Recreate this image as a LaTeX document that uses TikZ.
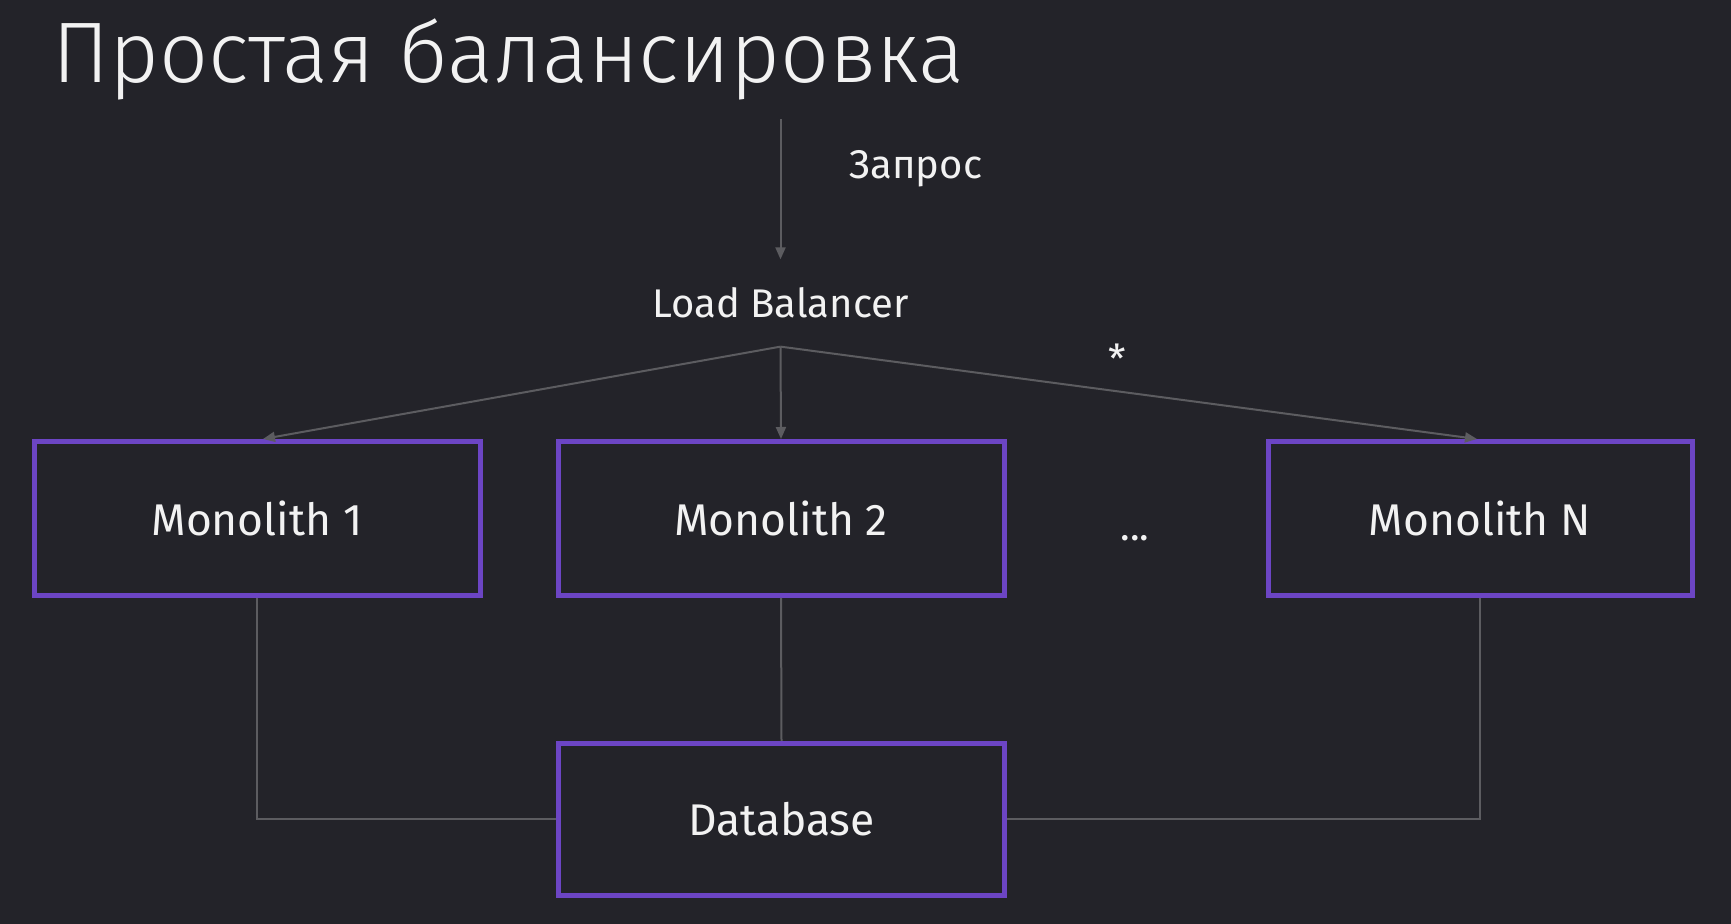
\documentclass[tikz,border=0pt]{standalone}
\usepackage{fontspec}
\setmainfont{Fira Sans}
\newfontfamily\titlefont{Fira Sans Light}
\usetikzlibrary{arrows.meta}
\definecolor{bgc}{HTML}{232329}
\definecolor{boxc}{HTML}{6C45C4}
\definecolor{linec}{HTML}{5C5C60}
\definecolor{txtc}{HTML}{F2F2F2}
\tikzset{
  mbox/.style={draw=boxc, line width=2.5pt, rectangle, minimum width=223pt, minimum height=77pt,
    text=txtc, font=\fontsize{22.2}{26}\selectfont, inner sep=0pt},
  lbl/.style={text=txtc, font=\fontsize{20}{24}\selectfont, inner sep=0pt},
  conn/.style={draw=linec, line width=1pt},
  arr/.style={conn, -{Triangle[length=6pt,width=5pt]}}
}
\begin{document}
\begin{tikzpicture}[x=0.5pt,y=-0.5pt]
\fill[bgc] (0,0) rectangle (1731,924);
\useasboundingbox (0,0) rectangle (1731,924);

\node[text=txtc, font=\titlefont\fontsize{43}{50}\selectfont, inner sep=0pt, anchor=base west] (title) at (52,83) {Простая балансировка};

\coordinate (req) at (780.5,119);
\node[lbl, anchor=base] (zapros) at (916,179) {Запрос};
\node[lbl, inner xsep=0pt, inner ysep=14pt] (lb) at (780.5,303) {Load Balancer};

\node[mbox] (m1) at (257,518.5) {Monolith 1};
\node[mbox] (m2) at (781,518.5) {Monolith 2};
\node[mbox, minimum width=212pt] (mn) at (1480,518.5) {Monolith N};
\node[mbox, minimum height=76pt] (db) at (781.5,819.5) {Database};

\node[lbl, anchor=base] (star) at (1117,374) {*};
\node[lbl, anchor=base] (dots) at (1135,541) {...};

\draw[arr] (req) -- (lb.north);
\draw[arr] (lb.south) -- ([xshift=3pt]m1.north);
\draw[arr] (lb.south) -- (m2.north);
\draw[arr] (lb.south) -- ([xshift=-1.5pt]mn.north);

\draw[conn] (m1.south) |- (db.west);
\draw[conn] (m2.south) -- (db.north);
\draw[conn] (mn.south) |- (db.east);
\end{tikzpicture}
\end{document}
